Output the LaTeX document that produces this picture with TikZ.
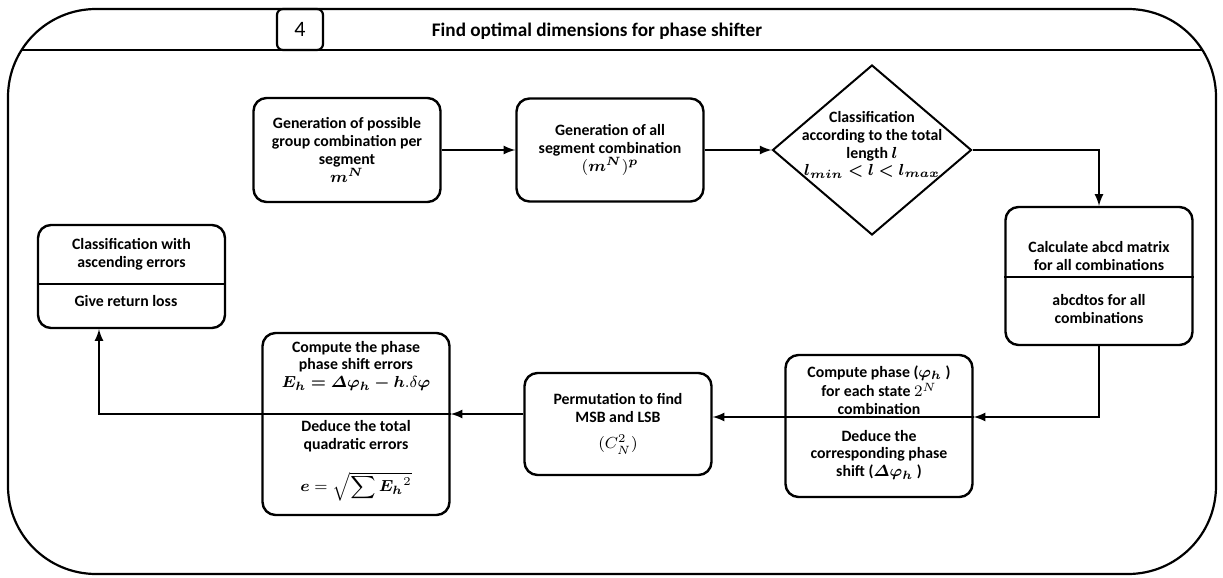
\documentclass[tikz,border=0pt]{standalone}
\usepackage{amsmath}
\usepackage{bm}
\usepackage{fontspec}
\setmainfont{Carlito}
\usetikzlibrary{shapes.geometric}

\begin{document}
\begin{tikzpicture}[
  x=0.5pt, y=-0.5pt,
  every node/.style={inner sep=1pt},
  txt/.style={align=center, inner sep=0pt, font=\bfseries\fontsize{7.9}{8.9}\selectfont},
  box/.style={draw, line width=1.2pt, rounded corners=6.5pt, minimum width=93.5pt, txt},
  test/.style={diamond, draw, line width=1pt, minimum width=99.5pt, minimum height=85pt, inner sep=0pt},
  frame/.style={draw, line width=1.1pt, rounded corners=44pt},
  rule/.style={draw, line width=1pt},
  arrow/.style={draw, line width=1pt, -latex}]

  \useasboundingbox (0,0) rectangle (1223,578);

  % outer frame and title band
  \draw[frame] (8,9) rectangle (1216,574);
  \draw[rule] (22,50) -- (1202,50);
  \node[draw, line width=1.1pt, rounded corners=3pt, minimum width=23pt, minimum height=20.5pt,
        inner sep=0pt, font=\fontsize{11}{13}\selectfont] (stage) at (300,29.5) {4};
  \node[txt, font=\bfseries\fontsize{9.6}{11}\selectfont] (title) at (597,31) {Find optimal dimensions for phase shifter};

  % first row
  \node[box, minimum height=52pt] (group) at (347,150) {Generation of possible\\group combination per\\segment\\$\bm{m^N}$};
  \node[box, minimum height=51.5pt] (segm) at (610,150) {Generation of all\\segment combination\\$(\bm{m}^{\bm{N}})^{\bm{p}}$};
  \node[test] (cls) at (872,150) {};
  \node[txt] (cls-txt) at (872,145) {Classification\\according to the total\\length $\bm{l}$\\$\bm{l_{min} < l < l_{max}}$};

  % abcd box
  \node[box, minimum height=69pt] (abcd) at (1099,276) {};
  \coordinate (abcd-s) at (1099,277);
  \draw[rule] (abcd.west |- abcd-s) -- (abcd.east |- abcd-s);
  \node[txt] (abcd-a) at (1099,256) {Calculate abcd matrix\\for all combinations};
  \node[txt] (abcd-b) at (1099,309) {abcdtos for all\\combinations};

  % phase box
  \node[box, minimum height=71pt] (phase) at (879,426) {};
  \coordinate (phase-s) at (879,417);
  \draw[rule] (phase.west |- phase-s) -- (phase.east |- phase-s);
  \node[txt] (phase-a) at (879,390) {Compute phase ($\bm{\varphi_h}$ )\\[1pt]for each state $2^N$\\combination};
  \node[txt] (phase-b) at (879,455) {Deduce the\\corresponding phase\\shift ($\bm{\varDelta\varphi_h}$ )};

  \node[box, minimum height=51pt] (perm) at (618,424) {Permutation to find\\MSB and LSB\\[4pt]$(C_N^2)$};

  % error box
  \node[box, minimum height=91pt] (err) at (356,424) {};
  \coordinate (err-s) at (356,414);
  \draw[rule] (err.west |- err-s) -- (err.east |- err-s);
  \node[txt] (err-a) at (356,366) {Compute the phase\\phase shift errors\\$\bm{E_h = \varDelta\varphi_h - h}.\delta\bm{\varphi}$};
  \node[txt] (err-b) at (356,461) {Deduce the total\\quadratic errors\\[9pt]$\bm{e} = \sqrt{\displaystyle\sum {\bm{E_h}}^{2}}$};

  % ranking box
  \node[box, minimum height=51.5pt] (rank) at (131.5,276.5) {};
  \coordinate (rank-s) at (131.5,284);
  \draw[rule] (rank.west |- rank-s) -- (rank.east |- rank-s);
  \node[txt] (rank-a) at (131.5,254) {Classification with\\ascending errors};
  \node[txt] (rank-b) at (126,301) {Give return loss};

  % connectors
  \draw[arrow] (group.east) -- (segm.west);
  \draw[arrow] (segm.east) -- (cls.west);
  \draw[arrow] (cls.east) -| (abcd.north);
  \draw[arrow] (abcd.south) |- (phase.east |- phase-s);
  \draw[arrow] (phase.west |- phase-s) -- (perm.east |- phase-s);
  \draw[arrow] (perm.west |- err-s) -- (err.east |- err-s);
  \coordinate (back) at (99,414);
  \draw[arrow] (err.west |- err-s) -- (back) -- (back |- rank.south);

\end{tikzpicture}
\end{document}
